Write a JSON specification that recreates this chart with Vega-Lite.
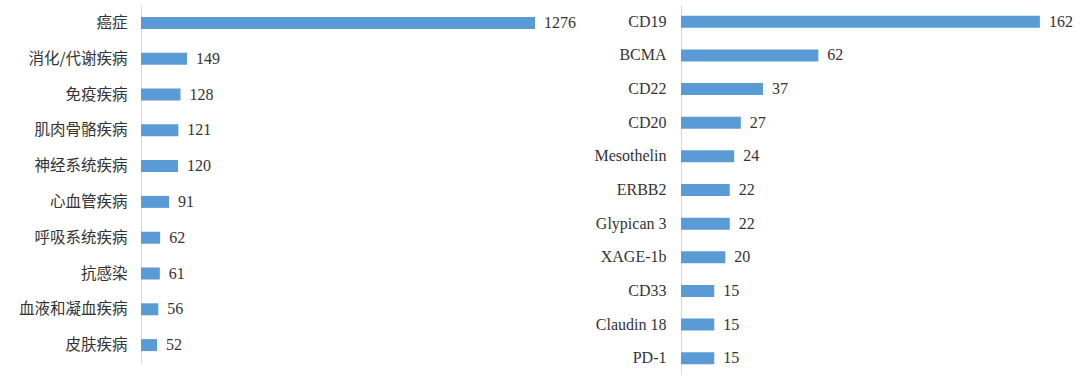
{
  "$schema": "https://vega.github.io/schema/vega-lite/v6.json",
  "background": "white",
  "padding": {"left": 18, "top": 5, "right": 0, "bottom": 0},
  "spacing": 13,
  "config": {
    "view": {"stroke": null},
    "axis": {"domainColor": "#d9d9d9", "ticks": false, "grid": false, "title": null}
  },
  "hconcat": [
    {
      "width": 440,
      "height": 358,
      "data": {"values": [
        {"category": "癌症", "count": 1276},
        {"category": "消化/代谢疾病", "count": 149},
        {"category": "免疫疾病", "count": 128},
        {"category": "肌肉骨骼疾病", "count": 121},
        {"category": "神经系统疾病", "count": 120},
        {"category": "心血管疾病", "count": 91},
        {"category": "呼吸系统疾病", "count": 62},
        {"category": "抗感染", "count": 61},
        {"category": "血液和凝血疾病", "count": 56},
        {"category": "皮肤疾病", "count": 52}
      ]},
      "encoding": {
        "y": {"field": "category", "type": "nominal", "sort": null,
              "scale": {"paddingInner": 0, "paddingOuter": 0},
              "axis": {"title": null, "labelFont": "Noto Sans CJK SC", "labelFontSize": 15.5, "labelPadding": 14, "labelColor": "#333333"}},
        "x": {"field": "count", "type": "quantitative", "axis": null, "scale": {"domain": [0, 1425]}}
      },
      "layer": [
        {"mark": {"type": "bar", "color": "#5b9bd5", "size": 12}},
        {"mark": {"type": "text", "align": "left", "baseline": "middle", "dx": 9, "font": "Times New Roman, Liberation Serif, serif", "fontSize": 16, "color": "#333333"},
         "encoding": {"text": {"field": "count", "type": "quantitative", "format": "d"}}}
      ]
    },
    {
      "width": 395,
      "height": 370,
      "data": {"values": [
        {"target": "CD19", "count": 162},
        {"target": "BCMA", "count": 62},
        {"target": "CD22", "count": 37},
        {"target": "CD20", "count": 27},
        {"target": "Mesothelin", "count": 24},
        {"target": "ERBB2", "count": 22},
        {"target": "Glypican 3", "count": 22},
        {"target": "XAGE-1b", "count": 20},
        {"target": "CD33", "count": 15},
        {"target": "Claudin 18", "count": 15},
        {"target": "PD-1", "count": 15}
      ]},
      "encoding": {
        "y": {"field": "target", "type": "nominal", "sort": null,
              "scale": {"paddingInner": 0, "paddingOuter": 0},
              "axis": {"title": null, "labelFont": "Times New Roman, Liberation Serif, serif", "labelFontSize": 16, "labelPadding": 15, "labelColor": "#333333"}},
        "x": {"field": "count", "type": "quantitative", "axis": null, "scale": {"domain": [0, 178.3]}}
      },
      "layer": [
        {"mark": {"type": "bar", "color": "#5b9bd5", "size": 12}},
        {"mark": {"type": "text", "align": "left", "baseline": "middle", "dx": 9, "font": "Times New Roman, Liberation Serif, serif", "fontSize": 16, "color": "#333333"},
         "encoding": {"text": {"field": "count", "type": "quantitative", "format": "d"}}}
      ]
    }
  ]
}
